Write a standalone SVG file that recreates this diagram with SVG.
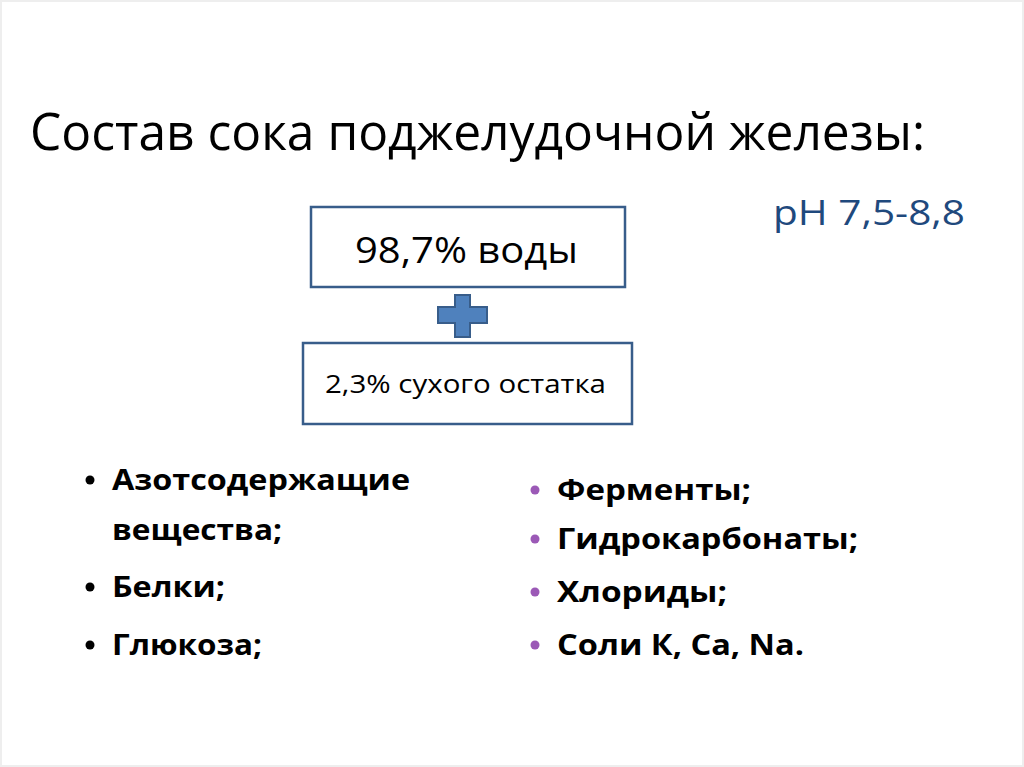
<svg xmlns="http://www.w3.org/2000/svg" width="1024" height="767" viewBox="0 0 1024 767">
<style>
.t{font-family:"Open Sans","Noto Sans","Liberation Sans",sans-serif;fill:#000}
.b{font-weight:bold}
.box{fill:#fff;stroke:#385D8A;stroke-width:2.5}
.db{fill:#000}
.pb{fill:#9B59B6}
</style>
<rect x="0" y="0" width="1024" height="767" fill="#fff"/>
<rect x="1" y="1" width="1022" height="765" fill="none" stroke="#eeeeee" stroke-width="2"/>
<text class="t" x="30" y="150" font-size="52" textLength="895" lengthAdjust="spacingAndGlyphs">Состав сока поджелудочной железы:</text>
<text class="t" x="773" y="225" font-size="35" fill="#1F497D" style="fill:#1F497D" textLength="192" lengthAdjust="spacingAndGlyphs">pH 7,5-8,8</text>
<g id="water">
<rect class="box" x="311" y="207" width="314" height="80"/>
<text class="t" x="355" y="263" font-size="36" textLength="223" lengthAdjust="spacingAndGlyphs">98,7% воды</text>
</g>
<g id="plus">
<path d="M455 295 H470 V307 H487 V323 H470 V337 H455 V323 H438 V307 H455 Z" fill="#4F81BD" stroke="#385D8A" stroke-width="2"/>
</g>
<g id="dry">
<rect class="box" x="303" y="343" width="329" height="81"/>
<text class="t" x="325" y="393" font-size="25" textLength="281" lengthAdjust="spacingAndGlyphs">2,3% сухого остатка</text>
</g>
<g id="left-list">
<circle class="db" cx="90" cy="480" r="4.5"/>
<text class="t b" x="112" y="490" font-size="29" textLength="298" lengthAdjust="spacingAndGlyphs">Азотсодержащие</text>
<text class="t b" x="112" y="540" font-size="29" textLength="170" lengthAdjust="spacingAndGlyphs">вещества;</text>
<circle class="db" cx="90" cy="587" r="4.5"/>
<text class="t b" x="112" y="597" font-size="29" textLength="113" lengthAdjust="spacingAndGlyphs">Белки;</text>
<circle class="db" cx="90" cy="645" r="4.5"/>
<text class="t b" x="112" y="655" font-size="29" textLength="150" lengthAdjust="spacingAndGlyphs">Глюкоза;</text>
</g>
<g id="right-list">
<circle class="pb" cx="535" cy="490" r="4.5"/>
<text class="t b" x="557" y="500" font-size="29" textLength="194" lengthAdjust="spacingAndGlyphs">Ферменты;</text>
<circle class="pb" cx="535" cy="539" r="4.5"/>
<text class="t b" x="557" y="549" font-size="29" textLength="301" lengthAdjust="spacingAndGlyphs">Гидрокарбонаты;</text>
<circle class="pb" cx="535" cy="592" r="4.5"/>
<text class="t b" x="557" y="602" font-size="29" textLength="170" lengthAdjust="spacingAndGlyphs">Хлориды;</text>
<circle class="pb" cx="535" cy="645" r="4.5"/>
<text class="t b" x="557" y="655" font-size="29" textLength="247" lengthAdjust="spacingAndGlyphs">Соли К, Ca, Na.</text>
</g>
</svg>
